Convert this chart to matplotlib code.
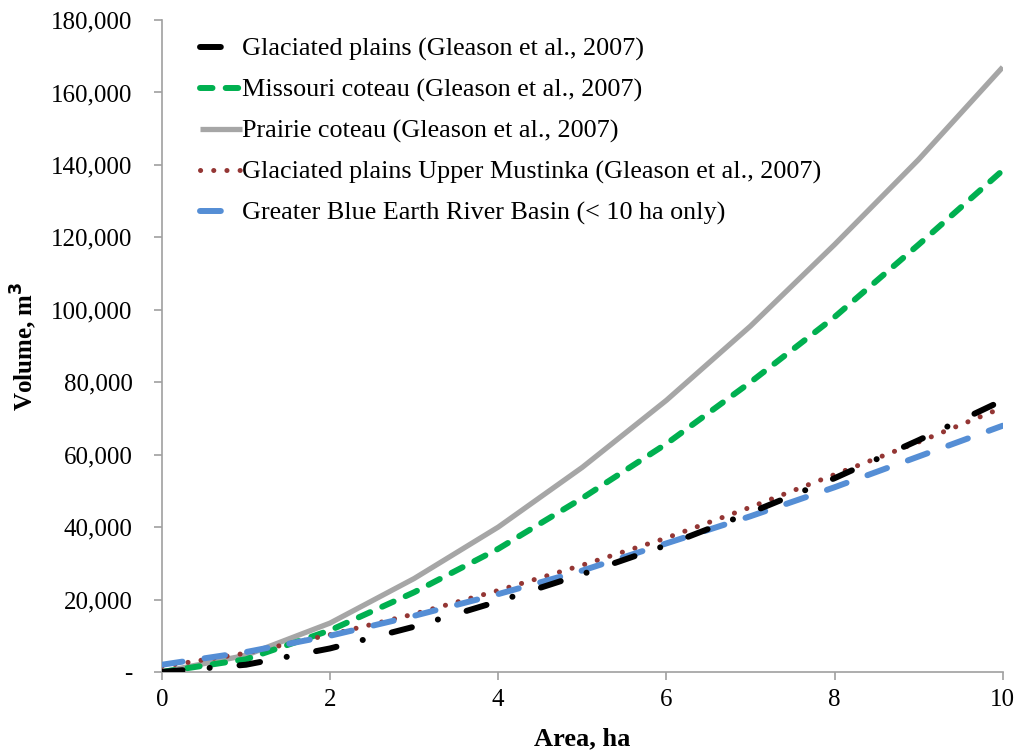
import matplotlib
matplotlib.use("Agg")
import matplotlib.pyplot as plt

plt.rcParams['font.family'] = ['Liberation Serif', 'DejaVu Serif']
plt.rcParams['lines.scale_dashes'] = False

area = [0, 1, 2, 3, 4, 5, 6, 7, 8, 9, 10]
glaciated = [0, 2000, 6500, 12500, 19500, 27000, 35000, 44000, 53500, 64000, 75000]
missouri = [0, 3500, 11500, 22000, 34000, 48000, 63000, 80000, 98000, 118000, 138500]
prairie = [0, 4600, 13500, 25800, 40000, 56500, 75000, 95500, 118000, 141500, 167000]
mustinka = [1500, 5200, 10300, 16000, 22500, 29500, 37000, 45500, 54500, 63500, 73000]
blue_earth = [2000, 5500, 10000, 15500, 21500, 28000, 35500, 43000, 51000, 59500, 68000]

labels = [
    "Glaciated plains (Gleason et al., 2007)",
    "Missouri coteau (Gleason et al., 2007)",
    "Prairie coteau (Gleason et al., 2007)",
    "Glaciated plains Upper Mustinka (Gleason et al., 2007)",
    "Greater Blue Earth River Basin (< 10 ha only)",
]
yticks = [0, 20000, 40000, 60000, 80000, 100000, 120000, 140000, 160000, 180000]
ytick_labels = ["-", "20,000", "40,000", "60,000", "80,000", "100,000",
                "120,000", "140,000", "160,000", "180,000"]
xticks = [0, 2, 4, 6, 8, 10]

fig = plt.figure(figsize=(10.18, 7.53), dpi=100)
ax = fig.add_axes([0.159, 0.1076, 0.826, 0.8658])

lw = 4.3
ax.plot(area, glaciated, color='black', lw=lw, linestyle=(0, (15, 19.5, 0.1, 21.5)),
        dash_capstyle='round', label=labels[0], zorder=5)
ax.plot(area, missouri, color='#00B050', lw=lw, linestyle=(0, (9, 9.5)),
        dash_capstyle='round', label=labels[1], zorder=3)
ax.plot(area, prairie, color='#A6A6A6', lw=3.8, linestyle='-',
        solid_capstyle='butt', label=labels[2], zorder=2)
ax.plot(area, mustinka, color='#943634', lw=3.6, linestyle=(0, (0.1, 9.4)),
        dash_capstyle='round', label=labels[3], zorder=4)
ax.plot(area, blue_earth, color='#558ED5', lw=lw, linestyle=(0, (15, 16)),
        dash_capstyle='round', label=labels[4], zorder=4)

ax.set_xlim(0, 10)
ax.set_ylim(0, 180000)
ax.set_xticks(xticks)
ax.set_xticklabels([str(x) for x in xticks])
ax.set_yticks(yticks)
ax.set_yticklabels(ytick_labels)

for s in ['top', 'right']:
    ax.spines[s].set_visible(False)
for s in ['left', 'bottom']:
    ax.spines[s].set_color('#A0A0A0')
    ax.spines[s].set_linewidth(1.2)
ax.tick_params(axis='both', direction='out', length=6, width=1.2, color='#A0A0A0',
               labelsize=18, labelcolor='black')
ax.tick_params(axis='y', pad=15)
ax.tick_params(axis='x', pad=6)

ax.set_xlabel("Area, ha", fontsize=19, fontweight='bold', labelpad=12)
ax.set_ylabel("Volume, m$^\\mathbf{3}$", fontsize=18, fontweight='bold', labelpad=9)

leg = ax.legend(loc='upper left', bbox_to_anchor=(0.033, 0.989), frameon=False,
                fontsize=18.8, handlelength=1.6, handletextpad=0.0,
                labelspacing=0.66, borderaxespad=0)

fig.savefig("out.png", dpi=100)
